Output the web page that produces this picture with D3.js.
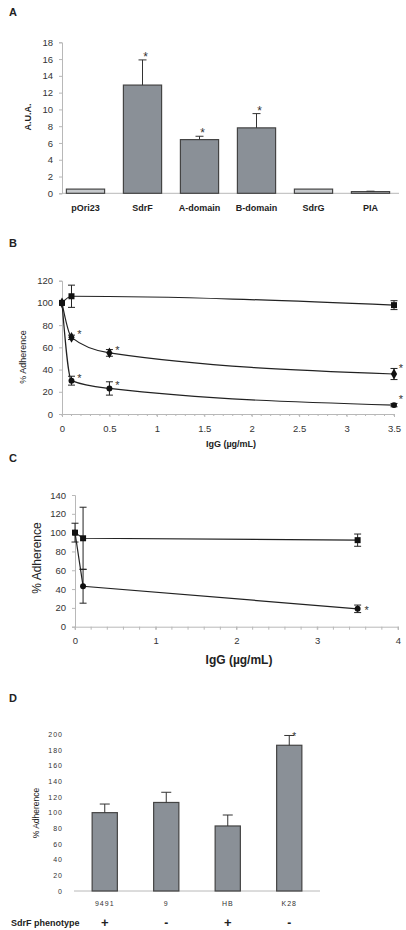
<!DOCTYPE html>
<html><head><meta charset="utf-8">
<script src="https://cdn.jsdelivr.net/npm/d3@7/dist/d3.min.js"></script>
<style>
html,body{margin:0;padding:0;background:#fff;}
svg{display:block;font-family:"Liberation Sans",Arial,sans-serif;}
</style></head>
<body>
<svg id="c" width="406" height="930"></svg>
<script>
// ---------- DATA ----------
// Panel A
const catsA = ["pOri23","SdrF","A-domain","B-domain","SdrG","PIA"];
const valsA = [0.5, 12.9, 6.4, 7.8, 0.5, 0.2];
const errA  = [0, 3.0, 0.4, 1.7, 0, 0.05];
const sigA  = [false, true, true, true, false, false];
const groupA = ["control","test","test","test","control","control"];
const ticksA = [0,2,4,6,8,10,12,14,16,18];

// Panel B
const ticksBx = [0,0.5,1,1.5,2,2.5,3,3.5];
const ticksBy = [0,20,40,60,80,100,120];
const b1x = [0, 0.1, 3.5],        b1y = [100, 106, 98],     b1e = [0, 10, 4],      b1s = [false,false,false];
const b2x = [0, 0.1, 0.5, 3.5],   b2y = [100, 69, 55, 36],  b2e = [0, 2, 3, 5],    b2s = [false,true,true,true];
const b3x = [0, 0.1, 0.5, 3.5],   b3y = [100, 30, 23, 8],   b3e = [0, 4, 6, 1.5],  b3s = [false,true,true,true];

// Panel C
const ticksCx = [0,1,2,3,4];
const ticksCy = [0,20,40,60,80,100,120,140];
const c1x = [0, 0.1, 3.5], c1y = [100, 94, 92], c1e = [10, 33, 6.5], c1s = [false,false,false];
const c2x = [0, 0.1, 3.5], c2y = [100, 43, 19], c2e = [0, 18, 4],    c2s = [false,false,true];

// Panel D
const catsD = ["9491","9","HB","K28"];
const valsD = [100, 113, 83, 186];
const errD  = [11, 13, 14, 12.5];
const sigD  = [false,false,false,true];
const phenoD = ["+","-","+","-"];
const ticksD = [0,20,40,60,80,100,120,140,160,180,200];

// ---------- DRAW ----------
const svg = d3.select("#c");
const axisCol = "#b8b8b8";
const txtCol = "#333";
const darkFill = "#8a9097", lightFill = "#c6c9cc", barStroke = "#444";

function panelLetter(t, x, y){
  svg.append("text").attr("x",x).attr("y",y).text(t)
    .attr("font-size",11).attr("font-weight","bold").attr("fill","#222");
}
function yAxis(g, y, ticks, x0, fs, opts={}){
  const ax = d3.axisLeft(y).tickValues(ticks).tickSize(3).tickPadding(opts.pad||6)
    .tickFormat(opts.fmt || d3.format("d"));
  const gg = g.append("g").attr("transform",`translate(${x0},0)`).call(ax);
  gg.select(".domain").attr("stroke",axisCol);
  gg.selectAll(".tick line").attr("stroke",axisCol);
  gg.selectAll(".tick text").attr("font-size",fs).attr("fill",txtCol)
    .attr("font-family","Liberation Sans, Arial, sans-serif")
    .attr("letter-spacing", opts.ls||0);
  return gg;
}
function errBar(g, x, yTop, yBot, cap){
  g.append("line").attr("x1",x).attr("x2",x).attr("y1",yTop).attr("y2",yBot).attr("stroke","#222").attr("stroke-width",1);
  g.append("line").attr("x1",x-cap).attr("x2",x+cap).attr("y1",yTop).attr("y2",yTop).attr("stroke","#222").attr("stroke-width",1);
  g.append("line").attr("x1",x-cap).attr("x2",x+cap).attr("y1",yBot).attr("y2",yBot).attr("stroke","#222").attr("stroke-width",1);
}
function star(g, x, y, fs){
  g.append("text").attr("x",x).attr("y",y).text("*").attr("font-size",fs||11).attr("fill","#333").attr("text-anchor","middle");
}

// ===== Panel A =====
panelLetter("A", 9, 16);
{
  const g = svg.append("g");
  const x = d3.scaleBand().domain(catsA).range([57,399]).paddingInner(0.33).paddingOuter(0.165);
  const y = d3.scaleLinear().domain([0,18]).range([193.3,42.3]);
  yAxis(g, y, ticksA, 62, 9.5);
  g.append("line").attr("x1",62).attr("x2",399).attr("y1",y(0)).attr("y2",y(0)).attr("stroke",axisCol);
  catsA.forEach((c,i)=>{
    const bx = x(c), bw = x.bandwidth();
    g.append("rect").attr("x",bx).attr("y",y(valsA[i])).attr("width",bw).attr("height",y(0)-y(valsA[i]))
      .attr("fill", groupA[i]==="control"?lightFill:darkFill).attr("stroke",barStroke).attr("stroke-width",1.2);
    if (errA[i]>0){
      const cx = bx+bw/2;
      g.append("line").attr("x1",cx).attr("x2",cx).attr("y1",y(valsA[i])).attr("y2",y(valsA[i]+errA[i])).attr("stroke","#333");
      g.append("line").attr("x1",cx-4).attr("x2",cx+4).attr("y1",y(valsA[i]+errA[i])).attr("y2",y(valsA[i]+errA[i])).attr("stroke","#333");
    }
    if (sigA[i]) star(g, bx+bw/2+3, y(valsA[i]+errA[i])+1, 12);
    g.append("text").attr("x",bx+bw/2).attr("y",211).attr("text-anchor","middle")
      .attr("font-size",9).attr("font-weight","bold").attr("fill","#222").text(c);
  });
  g.append("text").attr("transform","translate(31,117) rotate(-90)").attr("text-anchor","middle")
    .attr("font-size",9).attr("font-weight","bold").attr("fill","#222").text("A.U.A.");
}

// ===== Panel B =====
panelLetter("B", 9, 247);
{
  const g = svg.append("g");
  const x = d3.scaleLinear().domain([0,3.5]).range([62,394]);
  const y = d3.scaleLinear().domain([0,120]).range([414,280.7]);
  yAxis(g, y, ticksBy, 62, 9.5);
  const xa = g.append("g").attr("transform",`translate(0,414)`)
    .call(d3.axisBottom(x).tickValues(ticksBx).tickSize(3).tickPadding(8).tickFormat(d=>String(d)));
  xa.select(".domain").attr("stroke",axisCol);
  xa.selectAll(".tick line").attr("stroke",axisCol);
  xa.selectAll(".tick text").attr("font-size",9.5).attr("fill",txtCol).attr("font-family","Liberation Sans, Arial, sans-serif");
  g.selectAll(".minB").data(d3.range(0,36).map(i=>i/10)).enter().append("line")
    .attr("x1",d=>x(d)).attr("x2",d=>x(d)).attr("y1",414).attr("y2",416).attr("stroke",axisCol);
  const line = d3.line().x(d=>x(d[0])).y(d=>y(d[1])).curve(d3.curveMonotoneX);
  const series = [
    {xs:b1x, ys:b1y, es:b1e, ss:b1s, m:"square"},
    {xs:b2x, ys:b2y, es:b2e, ss:b2s, m:"diamond"},
    {xs:b3x, ys:b3y, es:b3e, ss:b3s, m:"circle"}
  ];
  series.forEach(s=>{
    const pts = s.xs.map((xx,i)=>[xx, s.ys[i]]);
    g.append("path").attr("d",line(pts)).attr("fill","none").attr("stroke","#222").attr("stroke-width",1.2);
    pts.forEach((p,i)=>{
      if (s.es[i]>0) errBar(g, x(p[0]), y(p[1]+s.es[i]), y(p[1]-s.es[i]), 3.5);
      const sym = s.m==="square"?d3.symbolSquare:(s.m==="diamond"?d3.symbolDiamond:d3.symbolCircle);
      const size = s.m==="square"?36:(s.m==="diamond"?34:28);
      g.append("path").attr("d",d3.symbol().type(sym).size(size)()).attr("transform",`translate(${x(p[0])},${y(p[1])})`).attr("fill","#111");
      if (s.ss[i]) star(g, x(p[0])+ (p[0]>3?7:8), y(p[1])+ (p[0]>3?-2:1), 11);
    });
  });
  g.append("text").attr("transform","translate(26,357) rotate(-90)").attr("text-anchor","middle")
    .attr("font-size",9).attr("fill","#222").text("% Adherence");
  g.append("text").attr("x",231).attr("y",447).attr("text-anchor","middle")
    .attr("font-size",9).attr("font-weight","bold").attr("fill","#222").text("IgG (µg/mL)");
}

// ===== Panel C =====
panelLetter("C", 9, 462);
{
  const g = svg.append("g");
  const x = d3.scaleLinear().domain([0,4]).range([75,398]);
  const y = d3.scaleLinear().domain([0,140]).range([626.7,495]);
  yAxis(g, y, ticksCy, 75, 9.5);
  const xa = g.append("g").attr("transform",`translate(0,626.7)`)
    .call(d3.axisBottom(x).tickValues(ticksCx).tickSize(3).tickPadding(8).tickFormat(d3.format("d")));
  xa.select(".domain").attr("stroke",axisCol);
  xa.selectAll(".tick line").attr("stroke",axisCol);
  xa.selectAll(".tick text").attr("font-size",9.5).attr("fill",txtCol).attr("font-family","Liberation Sans, Arial, sans-serif");
  g.selectAll(".minC").data(d3.range(0,21).map(i=>i/5)).enter().append("line")
    .attr("x1",d=>x(d)).attr("x2",d=>x(d)).attr("y1",626.7).attr("y2",629.7).attr("stroke",axisCol);
  const line = d3.line().x(d=>x(d[0])).y(d=>y(d[1]));
  const series = [
    {xs:c1x, ys:c1y, es:c1e, ss:c1s, m:"square"},
    {xs:c2x, ys:c2y, es:c2e, ss:c2s, m:"circle"}
  ];
  series.forEach(s=>{
    const pts = s.xs.map((xx,i)=>[xx, s.ys[i]]);
    g.append("path").attr("d",line(pts)).attr("fill","none").attr("stroke","#222").attr("stroke-width",1.2);
    pts.forEach((p,i)=>{
      if (s.es[i]>0) errBar(g, x(p[0]), y(p[1]+s.es[i]), y(p[1]-s.es[i]), 3.5);
      const sym = s.m==="square"?d3.symbolSquare:d3.symbolCircle;
      const size = s.m==="square"?36:28;
      g.append("path").attr("d",d3.symbol().type(sym).size(size)()).attr("transform",`translate(${x(p[0])},${y(p[1])})`).attr("fill","#111");
      if (s.ss[i]) star(g, x(p[0])+9, y(p[1])+5, 11);
    });
  });
  g.append("text").attr("transform","translate(41,558) rotate(-90)").attr("text-anchor","middle")
    .attr("font-size",12).attr("fill","#222").text("% Adherence");
  g.append("text").attr("x",239).attr("y",664).attr("text-anchor","middle")
    .attr("font-size",12).attr("font-weight","bold").attr("fill","#222").text("IgG (µg/mL)");
}

// ===== Panel D =====
panelLetter("D", 9, 702);
{
  const g = svg.append("g");
  const x = d3.scaleBand().domain(catsD).range([74,320]).paddingInner(0.59).paddingOuter(0.295);
  const y = d3.scaleLinear().domain([0,200]).range([891,734.3]);
  const ya = yAxis(g, y, ticksD, 74, 7, {ls:1, pad:8});
  ya.select(".domain").attr("stroke","none");
  ya.selectAll(".tick line").attr("stroke","none");
  g.append("line").attr("x1",74).attr("x2",320).attr("y1",y(0)).attr("y2",y(0)).attr("stroke",axisCol);
  catsD.forEach((c,i)=>{
    const bx = x(c), bw = x.bandwidth(), cx = bx+bw/2;
    g.append("rect").attr("x",bx).attr("y",y(valsD[i])).attr("width",bw).attr("height",y(0)-y(valsD[i]))
      .attr("fill",darkFill).attr("stroke",barStroke).attr("stroke-width",1.2);
    g.append("line").attr("x1",cx).attr("x2",cx).attr("y1",y(valsD[i])).attr("y2",y(valsD[i]+errD[i])).attr("stroke","#333");
    g.append("line").attr("x1",cx-5).attr("x2",cx+5).attr("y1",y(valsD[i]+errD[i])).attr("y2",y(valsD[i]+errD[i])).attr("stroke","#333");
    if (sigD[i]) star(g, cx+5, y(valsD[i]+errD[i])+5, 10);
    g.append("text").attr("x",cx).attr("y",906).attr("text-anchor","middle")
      .attr("font-size",7).attr("letter-spacing",1).attr("fill",txtCol).text(c);
    g.append("text").attr("x",cx).attr("y",927).attr("text-anchor","middle")
      .attr("font-size",phenoD[i]==="+"?13:12).attr("font-weight","bold").attr("fill","#222").text(phenoD[i]);
  });
  g.append("text").attr("x",11).attr("y",926).attr("font-size",9).attr("font-weight","bold")
    .attr("fill","#222").text("SdrF phenotype");
  g.append("text").attr("transform","translate(39,813) rotate(-90)").attr("text-anchor","middle")
    .attr("font-size",8.5).attr("fill","#222").text("% Adherence");
}
</script>
</body></html>
